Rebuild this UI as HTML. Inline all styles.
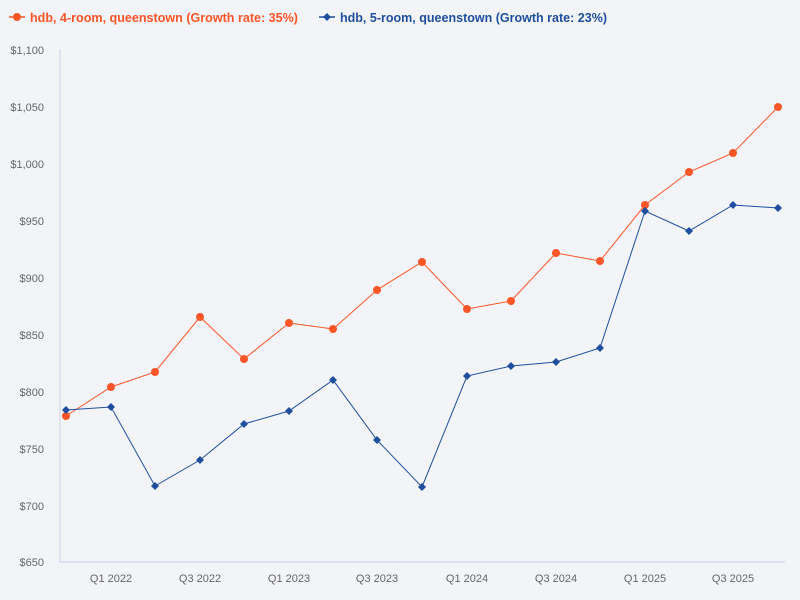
<!DOCTYPE html>
<html><head><meta charset="utf-8"><style>
body{margin:0;background:#f2f4f7;}
svg{display:block;font-family:"Liberation Sans",sans-serif;}
</style></head><body>
<svg width="800" height="600" viewBox="0 0 800 600">
<rect width="800" height="600" fill="#f2f4f7"/>
<g font-size="12.5" font-weight="bold">
<line x1="9" y1="17" x2="25" y2="17" stroke="#fc5527" stroke-width="1.5"/><circle cx="17" cy="17" r="4" fill="#fc5527"/>
<text x="30" y="22" fill="#fc5527" textLength="268" lengthAdjust="spacingAndGlyphs">hdb, 4-room, queenstown (Growth rate: 35%)</text>
<line x1="319" y1="17" x2="335" y2="17" stroke="#1f4e9e" stroke-width="1.5"/><path d="M327 13 L331 17 L327 21 L323 17Z" fill="#1f4e9e"/>
<text x="340" y="22" fill="#1f4e9e" textLength="267" lengthAdjust="spacingAndGlyphs">hdb, 5-room, queenstown (Growth rate: 23%)</text>
</g>
<g font-size="11" fill="#666" text-anchor="end">
<text x="44" y="54">$1,100</text><text x="44" y="111">$1,050</text><text x="44" y="168">$1,000</text>
<text x="44" y="225">$950</text><text x="44" y="282">$900</text><text x="44" y="339">$850</text>
<text x="44" y="396">$800</text><text x="44" y="453">$750</text><text x="44" y="510">$700</text>
<text x="44" y="566">$650</text>
</g>
<g font-size="11" fill="#666" text-anchor="middle">
<text x="111" y="582">Q1 2022</text><text x="200" y="582">Q3 2022</text><text x="289" y="582">Q1 2023</text>
<text x="377" y="582">Q3 2023</text><text x="467" y="582">Q1 2024</text><text x="556" y="582">Q3 2024</text>
<text x="645" y="582">Q1 2025</text><text x="733" y="582">Q3 2025</text>
</g>
<path d="M60 49 V562 H785" fill="none" stroke="#c8d4e6" stroke-width="1"/>
<polyline fill="none" stroke="#fc5527" stroke-width="1" points="66,416 111,387 155,372 200,317 244,359 289,323 333,329 377,290 422,262 467,309 511,301 556,253 600,261 645,205 689,172 733,153 778,107"/>
<g fill="#fc5527">
<circle cx="66" cy="416" r="4"/><circle cx="111" cy="387" r="4"/><circle cx="155" cy="372" r="4"/><circle cx="200" cy="317" r="4"/><circle cx="244" cy="359" r="4"/><circle cx="289" cy="323" r="4"/><circle cx="333" cy="329" r="4"/><circle cx="377" cy="290" r="4"/><circle cx="422" cy="262" r="4"/><circle cx="467" cy="309" r="4"/><circle cx="511" cy="301" r="4"/><circle cx="556" cy="253" r="4"/><circle cx="600" cy="261" r="4"/><circle cx="645" cy="205" r="4"/><circle cx="689" cy="172" r="4"/><circle cx="733" cy="153" r="4"/><circle cx="778" cy="107" r="4"/>
</g>
<polyline fill="none" stroke="#1f4e9e" stroke-width="1" points="66,410 111,407 155,486 200,460 244,424 289,411 333,380 377,440 422,487 467,376 511,366 556,362 600,348 645,211 689,231 733,205 778,208"/>
<g fill="#1f4e9e">
<path d="M66,406l4,4l-4,4l-4,-4z M111,403l4,4l-4,4l-4,-4z M155,482l4,4l-4,4l-4,-4z M200,456l4,4l-4,4l-4,-4z M244,420l4,4l-4,4l-4,-4z M289,407l4,4l-4,4l-4,-4z M333,376l4,4l-4,4l-4,-4z M377,436l4,4l-4,4l-4,-4z M422,483l4,4l-4,4l-4,-4z M467,372l4,4l-4,4l-4,-4z M511,362l4,4l-4,4l-4,-4z M556,358l4,4l-4,4l-4,-4z M600,344l4,4l-4,4l-4,-4z M645,207l4,4l-4,4l-4,-4z M689,227l4,4l-4,4l-4,-4z M733,201l4,4l-4,4l-4,-4z M778,204l4,4l-4,4l-4,-4z"/>
</g>
</svg>
</body></html>
